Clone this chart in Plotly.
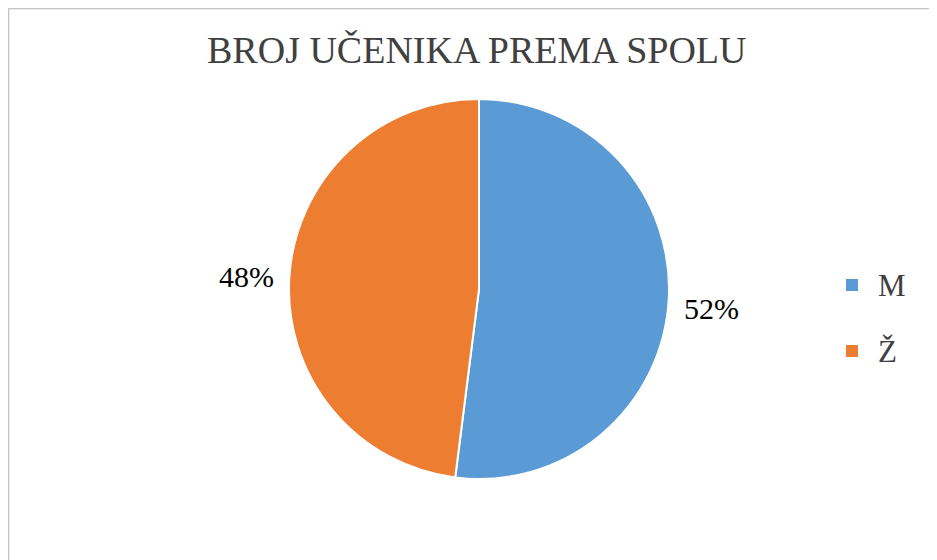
import plotly.graph_objects as go

# ---- data ----
categories = ["M", "Ž"]
values = [52, 48]
colors = ["#5B9BD5", "#ED7D31"]
title_text = "BROJ UČENIKA PREMA SPOLU"

W, H = 937, 560
OFF = 8  # page body margin offset
SERIF = "Liberation Serif, Times New Roman, serif"


def px(x):
    return (x - OFF) / W


def py(y):
    return 1 - (y - OFF) / H


# pie placement (screen pixels)
cx, cy, r = 479, 289, 190

fig = go.Figure()
fig.add_trace(go.Pie(
    labels=categories,
    values=values,
    sort=False,
    direction="clockwise",
    rotation=0,
    marker=dict(colors=colors, line=dict(color="white", width=2)),
    textinfo="none",
    hoverinfo="label+percent",
    showlegend=False,
    domain=dict(x=[px(cx - r), px(cx + r)], y=[py(cy + r), py(cy - r)]),
))

total = sum(values)
pct = [f"{round(v / total * 100)}%" for v in values]

annotations = [
    dict(text=title_text, x=px(477), y=py(50), xref="paper", yref="paper",
         xanchor="center", yanchor="middle", showarrow=False,
         font=dict(family=SERIF, size=38, color="#404040")),
    # data labels
    dict(text=pct[0], x=px(711), y=py(308), xref="paper", yref="paper",
         xanchor="center", yanchor="middle", showarrow=False,
         font=dict(family=SERIF, size=30, color="#000000")),
    dict(text=pct[1], x=px(247), y=py(276), xref="paper", yref="paper",
         xanchor="center", yanchor="middle", showarrow=False,
         font=dict(family=SERIF, size=30, color="#000000")),
]

shapes = [
    # chart frame (only top and left edges visible)
    dict(type="line", xref="paper", yref="paper", x0=px(8.5), x1=1.0,
         y0=py(8.5), y1=py(8.5), line=dict(color="#C4C4C4", width=1.7)),
    dict(type="line", xref="paper", yref="paper", x0=px(8.5), x1=px(8.5),
         y0=py(8.5), y1=0, line=dict(color="#C4C4C4", width=1.7)),
]

# legend
leg_y = [285, 351]
for cat, col, ly in zip(categories, colors, leg_y):
    shapes.append(dict(type="rect", xref="paper", yref="paper",
                       x0=px(846), x1=px(858), y0=py(ly + 6), y1=py(ly - 6),
                       fillcolor=col, line=dict(width=0)))
    annotations.append(dict(text=cat, x=px(876), y=py(ly), xref="paper", yref="paper",
                            xanchor="left", yanchor="middle", showarrow=False,
                            font=dict(family=SERIF, size=31, color="#404040")))

fig.update_layout(
    width=W, height=H,
    margin=dict(l=0, r=0, t=0, b=0),
    paper_bgcolor="white",
    plot_bgcolor="white",
    annotations=annotations,
    shapes=shapes,
)

fig.write_html("out.html")
